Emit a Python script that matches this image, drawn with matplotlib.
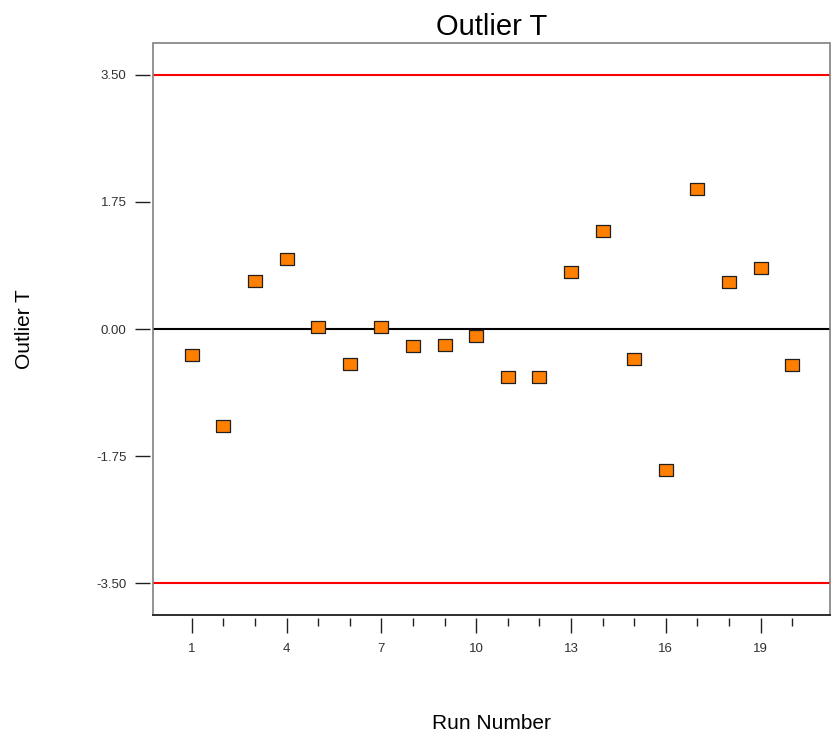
import matplotlib
matplotlib.use('Agg')

import matplotlib.pyplot as plt
import numpy as np
from matplotlib.patches import Rectangle

plt.rcParams['font.family'] = ['Liberation Sans', 'DejaVu Sans']

# run order and externally studentized residuals
runs = np.arange(1, 21)
outlier_t = [-0.36, -1.34, 0.66, 0.96, 0.03, -0.48, 0.03, -0.23, -0.22, -0.10,
             -0.66, -0.66, 0.79, 1.35, -0.41, -1.94, 1.93, 0.65, 0.84, -0.50]
limit = 3.5
y_ticks = [-3.50, -1.75, 0.00, 1.75, 3.50]
x_labels = [1, 4, 7, 10, 13, 16, 19]

fig = plt.figure(figsize=(8.33, 7.38), dpi=100)
ax = fig.add_axes([0.1837, 0.1667, 0.8127, 0.775])

# wide box marker
box = [(-1.25, -1), (1.25, -1), (1.25, 1), (-1.25, 1), (-1.25, -1)]
ax.plot(runs, outlier_t, linestyle='none', marker=box, markersize=10,
        markerfacecolor='#ff8000', markeredgecolor='#202020', markeredgewidth=0.9,
        zorder=4)

ax.axhline(limit, color='#ff0000', lw=1.5, zorder=3)
ax.axhline(-limit, color='#ff0000', lw=1.5, zorder=3)
ax.axhline(0, color='black', lw=1.5, zorder=3)

ax.set_xlim(-0.23, 21.2)
ax.set_ylim(-3.94, 3.94)

ax.set_yticks(y_ticks)
ax.set_yticklabels(['%.2f' % v for v in y_ticks])
ax.set_xticks(x_labels)
ax.set_xticklabels([str(v) for v in x_labels])
ax.set_xticks([r for r in runs if r not in x_labels], minor=True)

# ticks sit slightly off the frame
for side in ['left', 'bottom']:
    ax.spines[side].set_position(('outward', 2))
    ax.spines[side].set_color('none')
for side in ['top', 'right']:
    ax.spines[side].set_visible(False)
ax.add_patch(Rectangle((0, 0), 1, 1, transform=ax.transAxes, fill=False,
                       edgecolor='#808080', lw=1.2, clip_on=False, zorder=5))
ax.plot([0, 1], [0, 0], transform=ax.transAxes, color='#303030', lw=1.4,
        clip_on=False, zorder=6)

ax.tick_params(axis='y', length=11, width=1, color='#202020', labelsize=9.5,
               labelcolor='#303030', pad=6)
ax.tick_params(axis='x', which='major', length=11, width=1, color='#202020',
               labelsize=9.5, labelcolor='#303030', pad=7)
ax.tick_params(axis='x', which='minor', length=6, width=1, color='#202020')

ax.set_title('Outlier T', fontsize=21, pad=6)
ax.set_ylabel('Outlier T', fontsize=15, labelpad=45)
ax.set_xlabel('Run Number', fontsize=15, labelpad=43)

fig.savefig('out.png', dpi=100)
